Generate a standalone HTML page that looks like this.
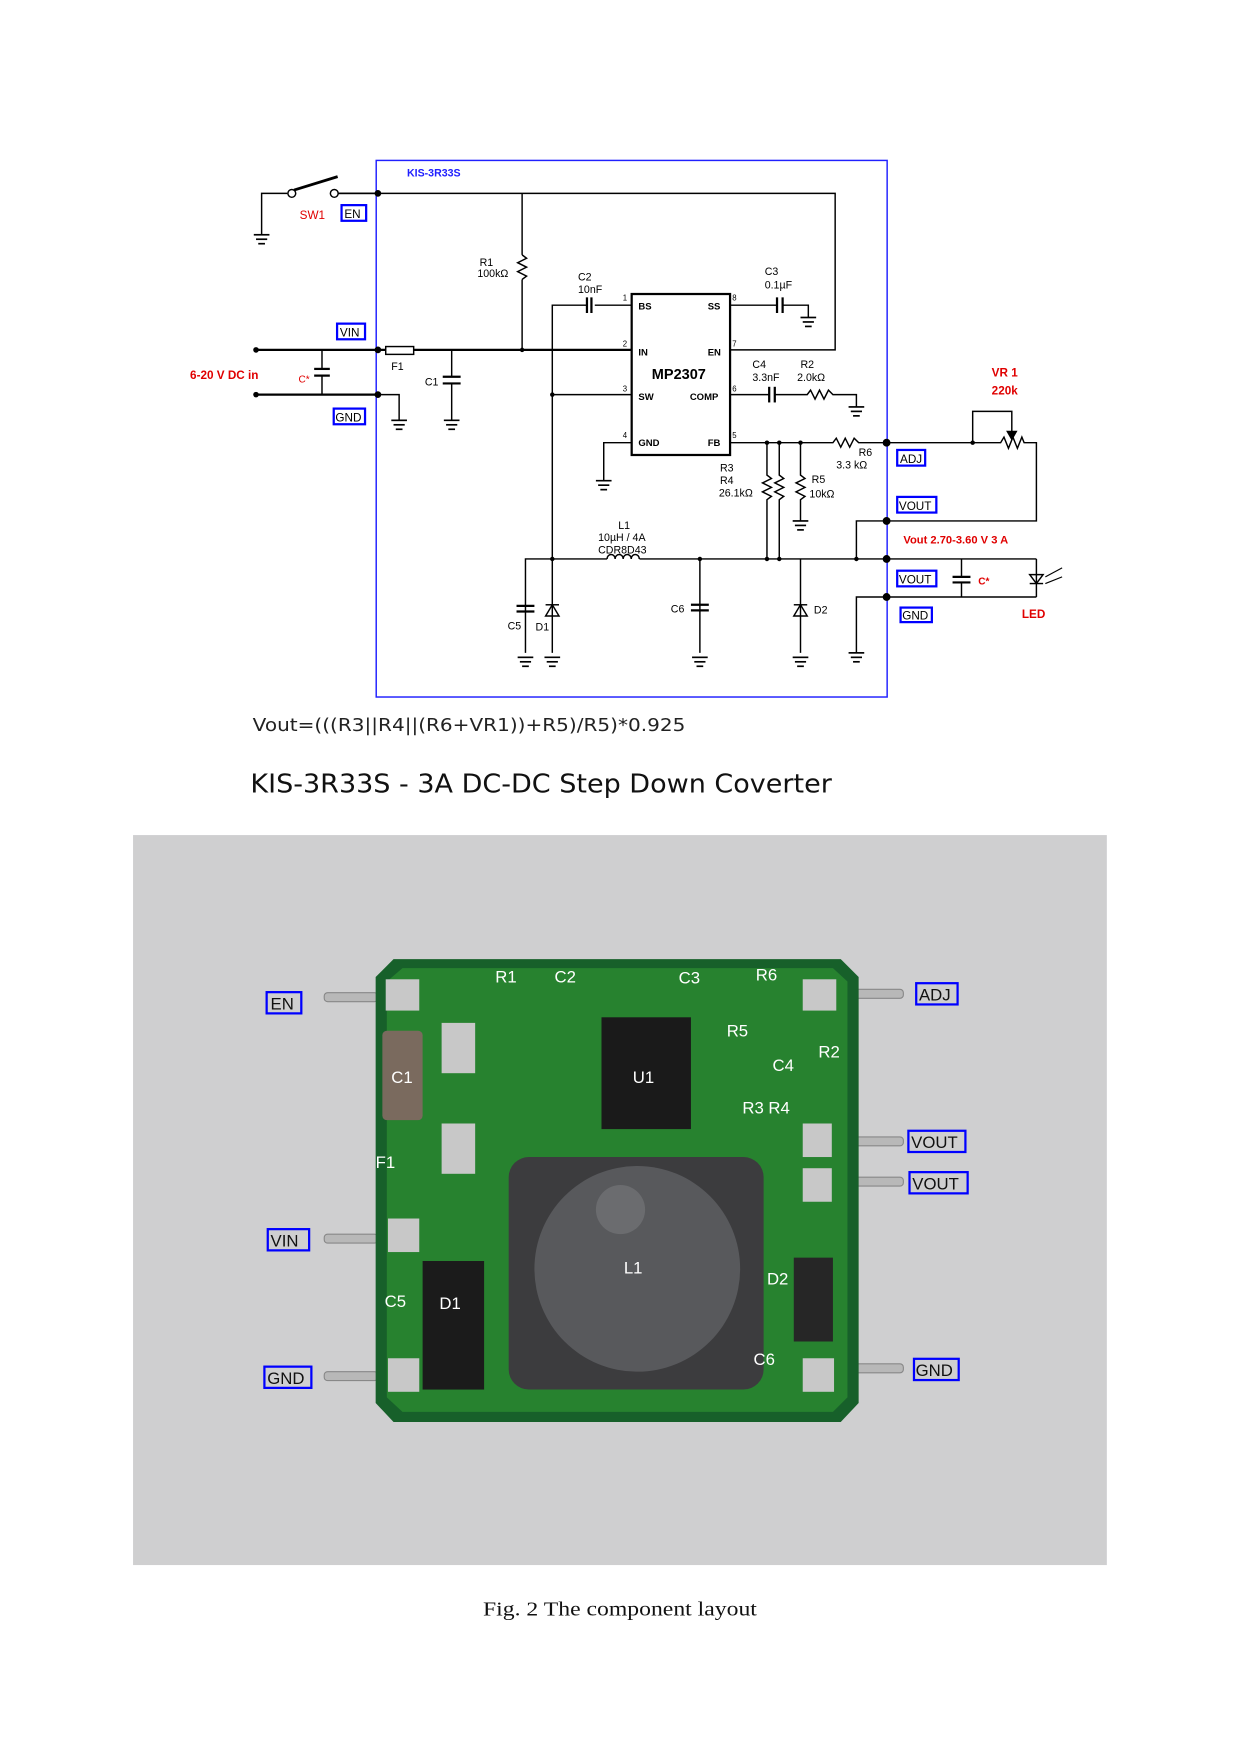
<!DOCTYPE html>
<html><head><meta charset="utf-8"><style>
html,body{margin:0;padding:0;background:#fff;width:1241px;height:1754px;overflow:hidden}
svg{display:block}
.s{font-family:"Liberation Sans",Arial,sans-serif}
</style></head><body>
<svg width="1241" height="1754" viewBox="0 0 1110 1569" preserveAspectRatio="none" xmlns="http://www.w3.org/2000/svg">
<defs>
<g id="gnd"><line x1="-7" y1="0" x2="7" y2="0" stroke="#000" stroke-width="1.5"/><line x1="-5" y1="4" x2="5" y2="4" stroke="#000" stroke-width="1.5"/><line x1="-3" y1="8" x2="3" y2="8" stroke="#000" stroke-width="1.5"/></g>
</defs>
<g stroke="#000" stroke-width="1.3" fill="none">
<rect x="336.5" y="143.5" width="457" height="480" stroke="#2020ff" stroke-width="1.3"/>
<polyline points="300,173 747,173 747,313 653,313"/>
<polyline points="234,210 234,173 257,173"/>
<line x1="263" y1="170" x2="302" y2="158" stroke-width="2.5"/>
<circle cx="261" cy="173" r="3.5" fill="#fff"/><circle cx="299" cy="173" r="3.5" fill="#fff"/>
<line x1="303" y1="173" x2="338" y2="173"/>
<line x1="467" y1="173" x2="467" y2="228"/>
<polyline points="467,228 471,231 463,235 471,239 463,243 471,247 467,250"/>
<line x1="467" y1="250" x2="467" y2="313"/>
<line x1="229" y1="313" x2="345" y2="313" stroke-width="2"/>
<rect x="345" y="310" width="25" height="7" stroke-width="1.3"/>
<line x1="370" y1="313" x2="565" y2="313" stroke-width="2"/>
<line x1="229" y1="353" x2="338" y2="353" stroke-width="2"/>
<polyline points="338,353 357,353 357,376"/>
<line x1="288" y1="313" x2="288" y2="330"/><line x1="281" y1="330" x2="295" y2="330" stroke-width="2"/><line x1="281" y1="336" x2="295" y2="336" stroke-width="2"/><line x1="288" y1="336" x2="288" y2="353"/>
<line x1="404" y1="313" x2="404" y2="337"/><line x1="396" y1="337" x2="412" y2="337" stroke-width="2"/><line x1="396" y1="343" x2="412" y2="343" stroke-width="2"/><line x1="404" y1="343" x2="404" y2="376"/>
<rect x="565" y="263" width="88" height="144" stroke-width="2"/>
<polyline points="565,273 532,273"/><line x1="529" y1="266" x2="529" y2="280" stroke-width="2"/><line x1="525" y1="266" x2="525" y2="280" stroke-width="2"/>
<polyline points="525,273 494,273 494,500"/>
<line x1="494" y1="353" x2="565" y2="353"/>
<polyline points="653,273 695,273"/><line x1="695" y1="266" x2="695" y2="280" stroke-width="2"/><line x1="700" y1="266" x2="700" y2="280" stroke-width="2"/><polyline points="700,273 723,273 723,284"/>
<polyline points="653,353 688,353"/><line x1="688" y1="346" x2="688" y2="360" stroke-width="2"/><line x1="693" y1="346" x2="693" y2="360" stroke-width="2"/><polyline points="693,353 722,353 725,349 729,357 733,349 737,357 741,349 745,353 766,353 766,364"/>
<polyline points="565,396 540,396 540,430"/>
<polyline points="653,396 745,396 748,392 752,400 756,392 760,400 764,392 768,396 870,396"/>
<polyline points="870,396 870,368 905,368 905,388"/>
<polygon points="901,386 909,386 905,393" fill="#000"/>
<polyline points="870,396 895,396 898,391 902,401 906,391 910,401 914,391 916,396 927,396 927,466 793,466"/>
<polyline points="686,396 686,425 690,428 682,432 690,436 682,440 690,444 686,447 686,500"/>
<polyline points="697,396 697,425 701,428 693,432 701,436 693,440 701,444 697,447 697,500"/>
<polyline points="716,396 716,425 720,428 712,432 720,436 712,440 720,444 716,447 716,466"/>
<polyline points="470,584 470,500 543,500"/>
<path d="M543,500 a3.6,4 0 0 1 7.2,0 a3.6,4 0 0 1 7.2,0 a3.6,4 0 0 1 7.2,0 a3.6,4 0 0 1 7.2,0"/>
<line x1="572" y1="500" x2="793" y2="500"/>
<line x1="462" y1="542" x2="478" y2="542" stroke-width="2"/><line x1="462" y1="547" x2="478" y2="547" stroke-width="2"/>
<line x1="494" y1="500" x2="494" y2="584"/>
<polygon points="488,551 500,551 494,541"/><line x1="488" y1="541" x2="500" y2="541"/>
<line x1="626" y1="500" x2="626" y2="584"/><line x1="618" y1="541" x2="634" y2="541" stroke-width="2"/><line x1="618" y1="546" x2="634" y2="546" stroke-width="2"/>
<line x1="716" y1="500" x2="716" y2="584"/>
<polygon points="710,551 722,551 716,541"/><line x1="710" y1="541" x2="722" y2="541"/>
<polyline points="766,500 766,466 793,466"/>
<polyline points="793,534 766,534 766,584"/>
<line x1="793" y1="500" x2="927" y2="500"/><line x1="793" y1="534" x2="927" y2="534"/>
<line x1="860" y1="500" x2="860" y2="516"/><line x1="852" y1="516" x2="868" y2="516" stroke-width="2"/><line x1="852" y1="521" x2="868" y2="521" stroke-width="2"/><line x1="860" y1="521" x2="860" y2="534"/>
<line x1="927" y1="500" x2="927" y2="534"/><polygon points="921,514 933,514 927,522"/><line x1="921" y1="522" x2="933" y2="522"/>
<line x1="935" y1="516" x2="950" y2="508" stroke-width="1"/><line x1="935" y1="522" x2="950" y2="516" stroke-width="1"/>
</g>
<g fill="#000">
<use href="#gnd" x="234" y="210"/><use href="#gnd" x="357" y="376"/><use href="#gnd" x="404" y="376"/><use href="#gnd" x="723" y="284"/><use href="#gnd" x="766" y="364"/><use href="#gnd" x="540" y="430"/><use href="#gnd" x="716" y="466"/><use href="#gnd" x="470" y="588"/><use href="#gnd" x="494" y="588"/><use href="#gnd" x="626" y="588"/><use href="#gnd" x="716" y="588"/><use href="#gnd" x="766" y="584"/>
<circle cx="338" cy="173" r="3"/><circle cx="338" cy="313" r="3"/><circle cx="338" cy="353" r="3"/><circle cx="229" cy="313" r="2.5"/><circle cx="229" cy="353" r="2.5"/>
<circle cx="467" cy="313" r="2"/><circle cx="494" cy="353" r="2"/><circle cx="494" cy="500" r="2"/><circle cx="626" cy="500" r="2"/><circle cx="686" cy="396" r="2"/><circle cx="697" cy="396" r="2"/><circle cx="716" cy="396" r="2"/><circle cx="686" cy="500" r="2"/><circle cx="697" cy="500" r="2"/><circle cx="766" cy="500" r="2"/>
<circle cx="793" cy="396" r="3.5"/><circle cx="793" cy="466" r="3.5"/><circle cx="793" cy="500" r="3.5"/><circle cx="793" cy="534" r="3.5"/><circle cx="870" cy="396" r="2"/>
</g>
<g class="s" font-size="9.5" fill="#000">
<text x="364" y="158" fill="#2020ff" font-weight="bold">KIS-3R33S</text>
<text x="429" y="238">R1</text><text x="427" y="248">100kΩ</text>
<text x="517" y="251">C2</text><text x="517" y="262">10nF</text>
<text x="684" y="246">C3</text><text x="684" y="258">0.1µF</text>
<text x="557" y="269" font-size="7">1</text><text x="557" y="310" font-size="7">2</text><text x="557" y="350" font-size="7">3</text><text x="557" y="392" font-size="7">4</text>
<text x="655" y="269" font-size="7">8</text><text x="655" y="310" font-size="7">7</text><text x="655" y="350" font-size="7">6</text><text x="655" y="392" font-size="7">5</text>
<g font-weight="bold" font-size="8.5"><text x="571" y="277">BS</text><text x="633" y="277">SS</text><text x="571" y="318">IN</text><text x="633" y="318">EN</text><text x="571" y="358">SW</text><text x="617" y="358">COMP</text><text x="571" y="399">GND</text><text x="633" y="399">FB</text></g>
<text x="583" y="339" font-weight="bold" font-size="13">MP2307</text>
<text x="673" y="329">C4</text><text x="673" y="341">3.3nF</text><text x="716" y="329">R2</text><text x="713" y="341">2.0kΩ</text>
<text x="768" y="408">R6</text><text x="748" y="419">3.3 kΩ</text>
<text x="644" y="422">R3</text><text x="644" y="433">R4</text><text x="643" y="444">26.1kΩ</text>
<text x="726" y="432">R5</text><text x="724" y="445">10kΩ</text>
<text x="553" y="473">L1</text><text x="535" y="484">10µH / 4A</text><text x="535" y="495">CDR8D43</text>
<text x="454" y="563">C5</text><text x="479" y="564">D1</text><text x="600" y="548">C6</text><text x="728" y="549">D2</text>
<text x="350" y="331">F1</text><text x="380" y="345">C1</text>
<g fill="#e00000" font-weight="bold" font-size="10.5">
<text x="170" y="339">6-20 V DC in</text><text x="268" y="196" font-weight="normal">SW1</text><text x="267" y="342" font-weight="normal" font-size="9">C*</text>
<text x="887" y="337">VR 1</text><text x="887" y="353">220k</text><text x="808" y="486" font-size="10">Vout 2.70-3.60 V 3 A</text>
<text x="875" y="523" font-size="9">C*</text><text x="914" y="553">LED</text></g>
<g font-size="10.5"><rect x="305.5" y="183.5" width="22" height="14" fill="none" stroke="#00f" stroke-width="2"/><text x="308" y="195">EN</text>
<rect x="301.5" y="289.5" width="25" height="14" fill="none" stroke="#00f" stroke-width="2"/><text x="304" y="301">VIN</text>
<rect x="298.5" y="365.5" width="28" height="14" fill="none" stroke="#00f" stroke-width="2"/><text x="300" y="377">GND</text>
<rect x="802.5" y="402.5" width="25" height="14" fill="none" stroke="#00f" stroke-width="2"/><text x="805" y="414">ADJ</text>
<rect x="802.5" y="444.5" width="35" height="14" fill="none" stroke="#00f" stroke-width="2"/><text x="804" y="456">VOUT</text>
<rect x="802.5" y="510.5" width="35" height="14" fill="none" stroke="#00f" stroke-width="2"/><text x="804" y="522">VOUT</text>
<rect x="805.5" y="543.5" width="28" height="13" fill="none" stroke="#00f" stroke-width="2"/><text x="807" y="554">GND</text></g>
</g>
<text x="226" y="654" font-family="DejaVu Sans,sans-serif" font-size="16" fill="#222" textLength="387" lengthAdjust="spacingAndGlyphs">Vout=(((R3||R4||(R6+VR1))+R5)/R5)*0.925</text>
<text x="224" y="709" font-family="DejaVu Sans,sans-serif" font-size="23" fill="#111" textLength="520" lengthAdjust="spacingAndGlyphs">KIS-3R33S - 3A DC-DC Step Down Coverter</text>
<rect x="119" y="747" width="871" height="653" fill="#cfcfd0"/>
<g fill="#b8b8b8" stroke="#888" stroke-width="1">
<rect x="290" y="888" width="48" height="8" rx="3"/><rect x="290" y="1104" width="48" height="8" rx="3"/><rect x="290" y="1227" width="48" height="8" rx="3"/>
<rect x="760" y="885" width="48" height="8" rx="3"/><rect x="760" y="1017" width="48" height="8" rx="3"/><rect x="760" y="1053" width="48" height="8" rx="3"/><rect x="760" y="1220" width="48" height="8" rx="3"/></g>
<polygon points="352,858 752,858 768,874 768,1255 752,1272 352,1272 336,1255 336,874" fill="#17602a"/>
<polygon points="360,866 745,866 758,878 758,1250 745,1263 360,1263 346,1250 346,878" fill="#27822f"/>
<rect x="455" y="1035" width="228" height="208" rx="18" fill="#3c3c3e"/>
<circle cx="570" cy="1135" r="92" fill="#58595c"/><circle cx="555" cy="1082" r="22" fill="#6b6c6f"/>
<rect x="538" y="910" width="80" height="100" fill="#1a1a1a"/>
<rect x="378" y="1128" width="55" height="115" fill="#1b1b1b"/>
<rect x="710" y="1125" width="35" height="75" fill="#262626"/>
<rect x="342" y="922" width="36" height="80" rx="4" fill="#7a6a5e"/>
<g fill="#c8c8c8"><rect x="345" y="876" width="30" height="28"/><rect x="718" y="876" width="30" height="28"/><rect x="347" y="1090" width="28" height="30"/><rect x="347" y="1215" width="28" height="30"/><rect x="718" y="1215" width="28" height="30"/><rect x="718" y="1045" width="26" height="30"/><rect x="718" y="1005" width="26" height="30"/><rect x="395" y="915" width="30" height="45"/><rect x="395" y="1005" width="30" height="45"/></g>
<g class="s" fill="#fff" font-size="15"><text x="443" y="879">R1</text><text x="496" y="879">C2</text><text x="607" y="880">C3</text><text x="676" y="877">R6</text><text x="650" y="927">R5</text><text x="732" y="946">R2</text><text x="691" y="958">C4</text><text x="566" y="969">U1</text><text x="350" y="969">C1</text><text x="664" y="996">R3 R4</text><text x="336" y="1045">F1</text><text x="558" y="1139">L1</text><text x="686" y="1149">D2</text><text x="344" y="1169">C5</text><text x="393" y="1171">D1</text><text x="674" y="1221">C6</text></g>
<g class="s" font-size="15" fill="#111">
<rect x="238.5" y="887.5" width="31" height="19" fill="none" stroke="#00f" stroke-width="2"/><text x="242" y="903">EN</text>
<rect x="239.5" y="1099.5" width="37" height="19" fill="none" stroke="#00f" stroke-width="2"/><text x="242" y="1115">VIN</text>
<rect x="236.5" y="1222.5" width="42" height="19" fill="none" stroke="#00f" stroke-width="2"/><text x="239" y="1238">GND</text>
<rect x="819.5" y="879.5" width="37" height="19" fill="none" stroke="#00f" stroke-width="2"/><text x="822" y="895">ADJ</text>
<rect x="812.5" y="1011.5" width="51" height="19" fill="none" stroke="#00f" stroke-width="2"/><text x="815" y="1027">VOUT</text>
<rect x="813.5" y="1048.5" width="52" height="19" fill="none" stroke="#00f" stroke-width="2"/><text x="816" y="1064">VOUT</text>
<rect x="817.5" y="1215.5" width="40" height="19" fill="none" stroke="#00f" stroke-width="2"/><text x="819" y="1231">GND</text></g>
<text x="432" y="1445" font-family="Liberation Serif,serif" font-size="18" fill="#111" textLength="245" lengthAdjust="spacingAndGlyphs">Fig. 2 The component layout</text>
</svg>
</body></html>
